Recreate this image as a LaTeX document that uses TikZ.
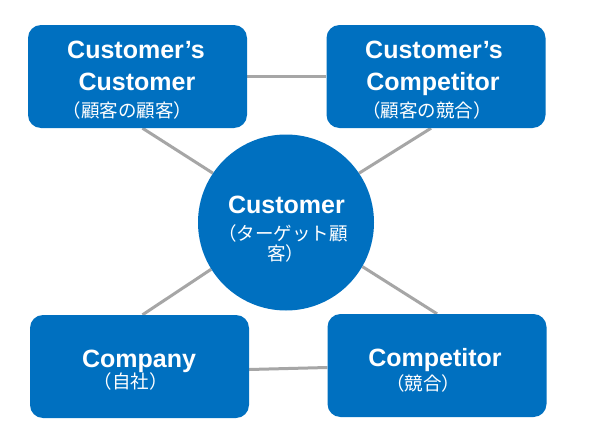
\documentclass[tikz,border=0pt]{standalone}
\usepackage{fontspec}
\setmainfont{Liberation Sans}
\newfontfamily\jpfont{Noto Sans CJK JP}
\usetikzlibrary{backgrounds}
\definecolor{boxblue}{HTML}{0070C0}
\definecolor{linegray}{HTML}{A6A6A6}
\begin{document}
\begin{tikzpicture}[x=1pt,y=-1pt,
  box/.style={fill=boxblue, rounded corners=13pt, minimum width=219pt, minimum height=103pt, inner sep=0pt},
  hub/.style={circle, fill=boxblue, minimum size=176pt, inner sep=0pt},
  en/.style={anchor=base, text=white, font=\bfseries\fontsize{25}{30}\selectfont, inner sep=0pt},
  jp/.style={anchor=base, text=white, font=\jpfont\fontsize{18.5}{22}\selectfont, inner sep=0pt},
  link/.style={draw=linegray, line width=3pt}]
\useasboundingbox (0,0) rectangle (590,447);
% nodes
\node[box] (tl) at (137.5,76.5) {};
\node[box] (tr) at (436,76.5) {};
\node[hub] (c) at (286,222.5) {};
\node[box] (bl) at (139.5,366.5) {};
\node[box] (br) at (437,365.5) {};
% connectors behind
\begin{scope}[on background layer]
\fill[white] (0,0) rectangle (590,447);
\draw[link] (tl.east) -- (tr.west);
\draw[link] ([yshift=-3pt]bl.east) -- ([yshift=-2pt]br.west);
\draw[link] ([xshift=5pt]tl.south) -- (c.146);
\draw[link] ([xshift=-5pt]tr.south) -- (c.34);
\draw[link] ([xshift=3pt]bl.north) -- (c.212);
\draw[link] (br.north) -- (c.-30);
\end{scope}
% labels
\node[en] (tl1) at (136,59) {Customer’s};
\node[en] (tl2) at (137,90) {Customer};
\node[jp] (tl3) at (127.5,117) {（顧客の顧客）};
\node[en] (tr1) at (434,59) {Customer’s};
\node[en] (tr2) at (433,90) {Competitor};
\node[jp] (tr3) at (427,117) {（顧客の競合）};
\node[en] (c1) at (286.5,213) {Customer};
\node[jp] (c2) at (283,240) {（ターゲット顧};
\node[jp] (c3) at (285.5,260) {客）};
\node[en] (bl1) at (139,367) {Company};
\node[jp] (bl2) at (130.5,388) {（自社）};
\node[en] (br1) at (435,366) {Competitor};
\node[jp] (br2) at (423,390) {（競合）};
\end{tikzpicture}
\end{document}
